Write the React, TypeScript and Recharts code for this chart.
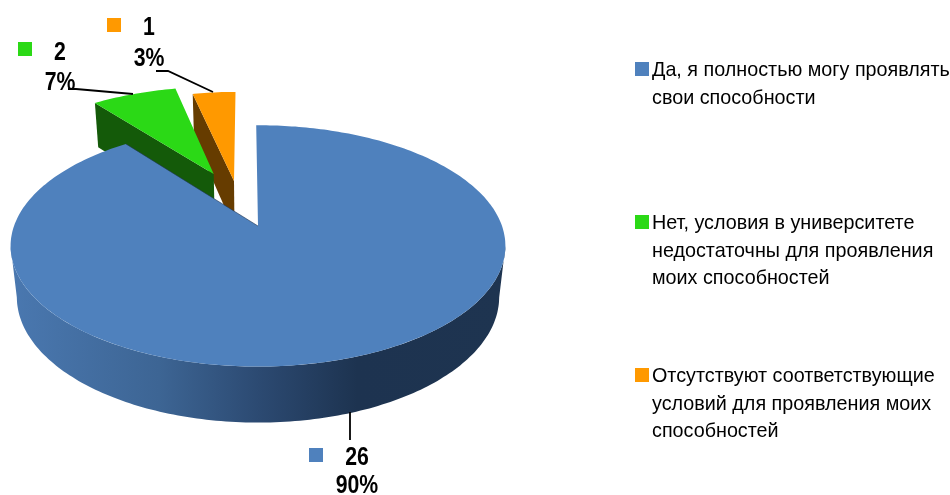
import { PieChart, Pie, Legend } from 'recharts';

const categories = [
  'Да, я полностью могу проявлять\nсвои способности',
  'Нет, условия в университете\nнедостаточны для проявления\nмоих способностей',
  'Отсутствуют соответствующие\nусловий для проявления моих\nспособностей',
];
const values = [26, 2, 1];

const COLORS = ['#4f81bd', '#2bd916', '#ff9900'];
const WALL_COLORS = ['url(#blueWall)', '#145a09', '#663c00'];

// explode offsets, in units of the pie radius
const EXPLODE = [[0, 0], [-0.196, 0.477], [-0.105, 0.408]];

// perspective of the 3D pie
const TILT = 0.481;
const PERSPECTIVE = 0.165;
const DEPTH = 51.7;
const LOWER = 0.025;

const LABEL_FONT = '"Liberation Sans", Arial, sans-serif';

// where each data label goes
const LABEL_LAYOUT = [
  { square: [309, 448], textX: 357, valueY: 465, percentY: 493, line: '350,412 350,440' },
  { square: [18, 42], textX: 60, valueY: 60, percentY: 90, line: '68,89 76,89 133,94' },
  { square: [107, 18], textX: 149, valueY: 35, percentY: 66, line: '156,71 168,71 213,92' },
];
const LEGEND_TOPS = [55, 208, 361];

// drawn back to front, so the big slice stays on top of the small ones
const chartData = categories
  .map((name, i) => ({ name, value: values[i], fill: COLORS[i], i }))
  .reverse();

function Slice(props: any) {
  const { cx, cy, outerRadius: r, startAngle, endAngle, fill } = props;
  const i = props.i ?? props.payload?.i;
  const [ox, oy] = EXPLODE[i];

  const point = (angle: number | null, lower = false) => {
    const a = ((angle ?? 0) * Math.PI) / 180;
    const u = ox + (angle === null ? 0 : Math.cos(a));
    const v = oy + (angle === null ? 0 : Math.sin(a));
    const d = 1 + PERSPECTIVE * v + (lower ? LOWER : 0);
    const x = cx + (r * u) / d;
    const y = cy + (-r * TILT * v + (lower ? DEPTH : 0)) / d;
    return `${x.toFixed(1)},${y.toFixed(1)}`;
  };
  const arc = (from: number, to: number, lower = false) => {
    const pts: string[] = [];
    const step = to > from ? 1 : -1;
    for (let a = from; step > 0 ? a < to : a > to; a += step) pts.push(point(a, lower));
    pts.push(point(to, lower));
    return pts;
  };

  const top = [point(null), ...arc(startAngle, endAngle)];
  let wall: string[];
  if (i === 0) {
    const edge = (Math.asin(PERSPECTIVE) * 180) / Math.PI;
    wall = [...arc(180 + edge, 360 - edge), ...arc(360 - edge, 180 + edge, true)];
  } else {
    wall = [point(endAngle), point(null), point(null, true), point(endAngle, true)];
  }

  return (
    <g>
      {i === 0 && (
        <defs>
          <linearGradient id="blueWall" gradientUnits="userSpaceOnUse" x1="10" x2="506" y1="0" y2="0">
            <stop offset="0" stopColor="#4a78b0" />
            <stop offset="0.3" stopColor="#3d6594" />
            <stop offset="0.5" stopColor="#2c4a72" />
            <stop offset="0.7" stopColor="#1d3350" />
            <stop offset="1" stopColor="#1e3450" />
          </linearGradient>
        </defs>
      )}
      <polygon points={wall.join(' ')} fill={WALL_COLORS[i]} />
      <polygon points={top.join(' ')} fill={fill} />
      {i === 0 && (
        <polyline
          points={`${point(startAngle)} ${point(null)}`}
          stroke="#1f3552"
          strokeOpacity={0.6}
          fill="none"
        />
      )}
    </g>
  );
}

function renderLabel(props: any) {
  const i = props.i ?? props.payload?.i;
  const layout = LABEL_LAYOUT[i];
  const textProps = {
    x: 0,
    textAnchor: 'middle' as const,
    fill: '#000',
    fontFamily: LABEL_FONT,
    fontWeight: 700,
    fontSize: 25,
    // the original face is a narrow one, not installed here
    transform: `translate(${layout.textX} 0) scale(0.85 1)`,
  };
  return (
    <g>
      <polyline points={layout.line} fill="none" stroke="#000" strokeWidth={1.8} />
      <rect x={layout.square[0]} y={layout.square[1]} width={14} height={14} fill={COLORS[i]} />
      <text {...textProps} y={layout.valueY}>{props.value}</text>
      <text {...textProps} y={layout.percentY}>{`${Math.round(props.percent * 100)}%`}</text>
    </g>
  );
}

function renderLegend(props: any) {
  const items = [...(props.payload ?? [])].sort(
    (a: any, b: any) => categories.indexOf(a.value) - categories.indexOf(b.value),
  );
  return (
    <div style={{ position: 'relative', width: 950, height: 495 }}>
      {items.map((item: any, i: number) => (
        <div key={i} style={{ position: 'absolute', left: 635, top: LEGEND_TOPS[i] }}>
          <div
            style={{
              position: 'absolute',
              left: 0,
              top: 7,
              width: 14,
              height: 14,
              background: COLORS[i],
            }}
          />
          <div
            style={{
              marginLeft: 17,
              width: 298,
              whiteSpace: 'pre',
              fontFamily: LABEL_FONT,
              fontSize: 20.8,
              lineHeight: '27.6px',
              color: '#000',
              transform: 'scaleX(0.95)',
              transformOrigin: 'left',
            }}
          >
            {item.value}
          </div>
        </div>
      ))}
    </div>
  );
}

export default function App() {
  return (
    <div style={{ position: 'fixed', left: 0, top: 0 }}>
      <PieChart width={950} height={495} margin={{ top: 0, right: 0, bottom: 0, left: 0 }}>
        <Pie
          data={chartData}
          dataKey="value"
          nameKey="name"
          cx={258}
          cy={226}
          outerRadius={244}
          startAngle={90.5}
          endAngle={450.5}
          stroke="none"
          shape={Slice}
          label={renderLabel}
          labelLine={false}
          isAnimationActive={false}
        />
        <Legend
          content={renderLegend}
          wrapperStyle={{ position: 'absolute', left: 0, top: 0, width: 950, height: 495 }}
        />
      </PieChart>
    </div>
  );
}
